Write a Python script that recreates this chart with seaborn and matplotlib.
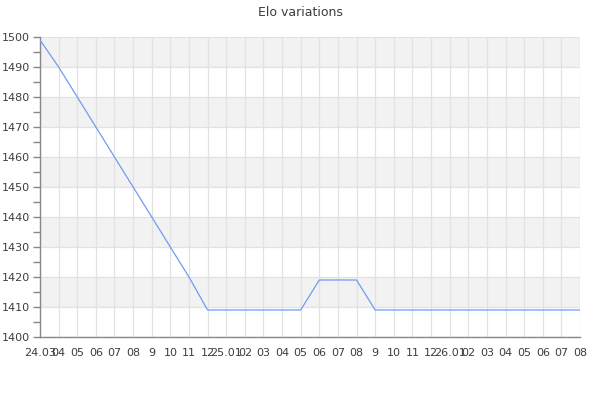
import matplotlib
matplotlib.use("Agg")
import matplotlib.pyplot as plt
import seaborn as sns
import pandas as pd
from matplotlib.ticker import MultipleLocator

months = ["24.03", "04", "05", "06", "07", "08", "9", "10", "11", "12",
          "25.01", "02", "03", "04", "05", "06", "07", "08", "9", "10", "11", "12",
          "26.01", "02", "03", "04", "05", "06", "07", "08"]
elo = [1499, 1490, 1480, 1470, 1460, 1450, 1440, 1430, 1420, 1409,
       1409, 1409, 1409, 1409, 1409, 1419, 1419, 1419, 1409, 1409, 1409, 1409,
       1409, 1409, 1409, 1409, 1409, 1409, 1409, 1409]
y_ticks = [1400, 1410, 1420, 1430, 1440, 1450, 1460, 1470, 1480, 1490, 1500]

df = pd.DataFrame({"idx": range(len(months)), "elo": elo})

sns.set_theme(style="white")
plt.rcParams['font.family'] = ['DejaVu Sans']

fig = plt.figure(figsize=(6, 4), dpi=100)
ax = fig.add_axes([40/600, 1-337/400, 540/600, 300/400])

# alternating bands
for i in range(len(y_ticks) - 1):
    if (len(y_ticks) - 2 - i) % 2 == 0:
        ax.axhspan(y_ticks[i], y_ticks[i+1], color="#f2f2f2", zorder=0, lw=0)

sns.lineplot(data=df, x="idx", y="elo", ax=ax, color="#6f9cf0", linewidth=0.9, zorder=3)

ax.set_xlim(0, len(months) - 1)
ax.set_ylim(y_ticks[0], y_ticks[-1])
ax.set_xticks(range(len(months)))
ax.set_xticklabels(months)
ax.set_yticks(y_ticks)
ax.yaxis.set_minor_locator(MultipleLocator(5))
ax.grid(True, which="major", color="#e2e2e2", linewidth=0.9, zorder=1)
ax.set_axisbelow(True)
ax.set_xlabel("")
ax.set_ylabel("")

for s in ["top", "right"]:
    ax.spines[s].set_visible(False)
for s in ["left", "bottom"]:
    ax.spines[s].set_color("#888888")
    ax.spines[s].set_linewidth(1.0)

ax.tick_params(axis="y", which="major", direction="out", length=5, width=1,
               color="#888888", labelsize=8, labelcolor="#3d3d3d", pad=2, left=True)
ax.tick_params(axis="y", which="minor", direction="out", length=5, width=1,
               color="#888888", left=True)
ax.tick_params(axis="x", which="major", length=0, labelsize=8, labelcolor="#3d3d3d", pad=8)

fig.suptitle("Elo variations", y=1-12/400, fontsize=9, color="#3d3d3d", va="center")

fig.savefig("out.png", dpi=100)
